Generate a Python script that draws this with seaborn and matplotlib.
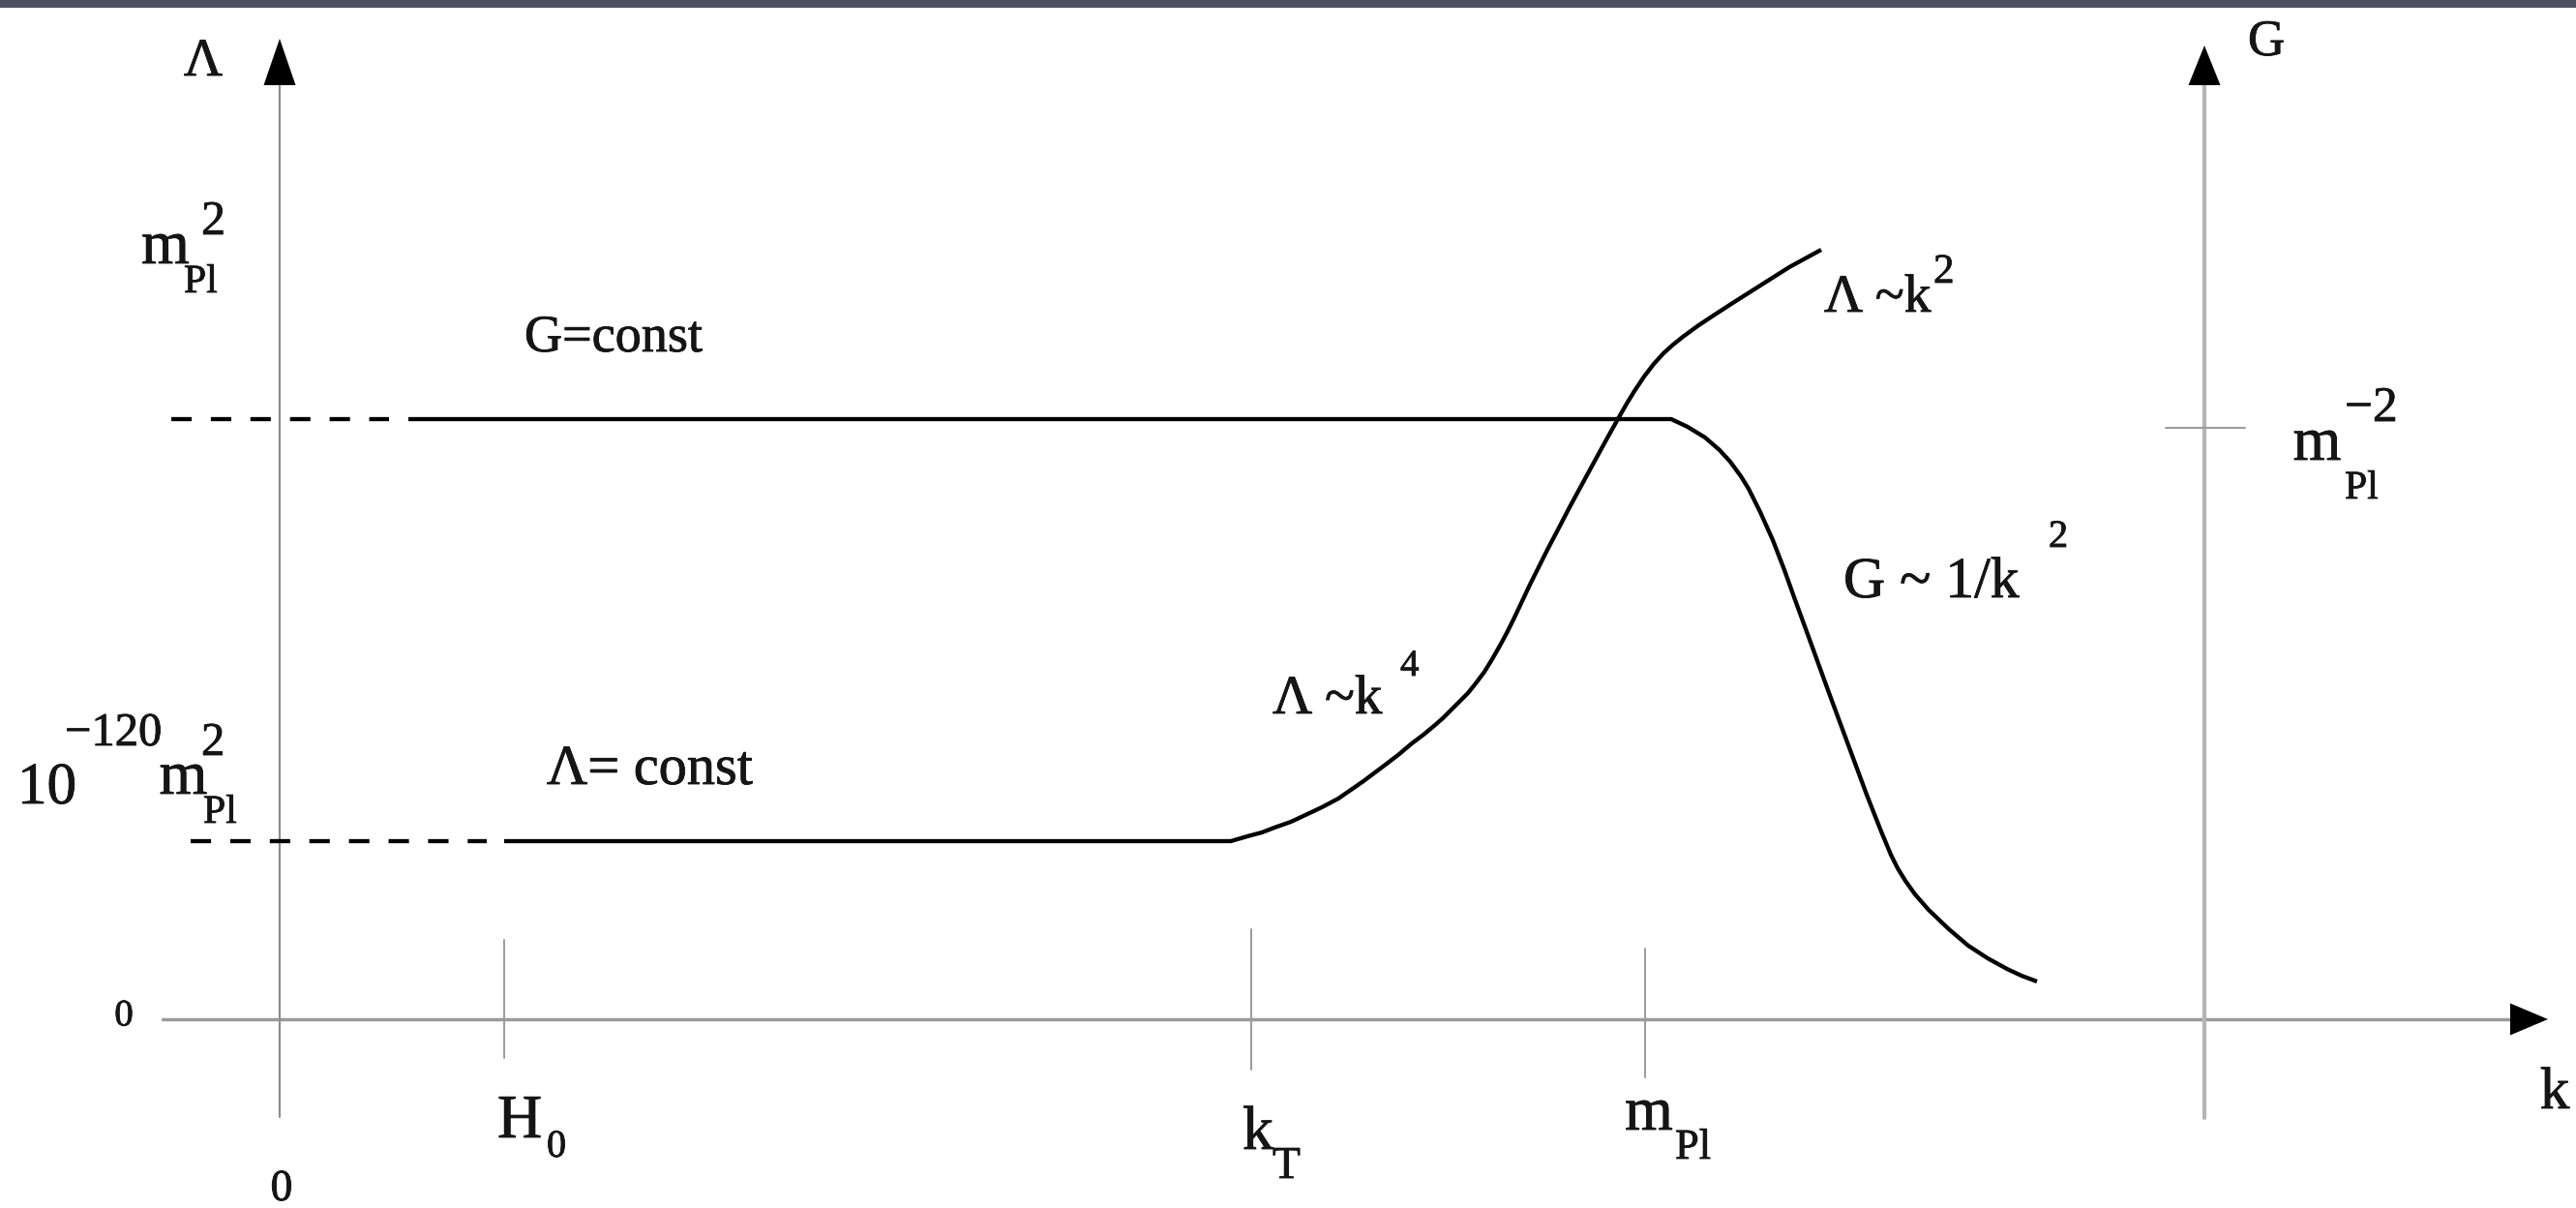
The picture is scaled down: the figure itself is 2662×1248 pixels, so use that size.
import matplotlib
matplotlib.use("Agg")
import matplotlib.pyplot as plt
import matplotlib.patheffects as pe
import seaborn as sns
import pandas as pd
from matplotlib.patches import Rectangle

sns.set_theme(style="white")
plt.rcParams["font.family"] = ["Liberation Serif", "DejaVu Serif"]

# ---- schematic scales (k along x, Lambda / G along y) ----
k_marks = [2.32, 10.04, 14.11]          # H0, k_T, m_Pl
k_right_axis = 19.89                    # position of the G axis
lambda_const = 1.84                     # 10^-120 m_Pl^2
g_const = 6.20                          # G = const level
g_tick = 6.105                          # m_Pl^-2 on the G axis

# cosmological constant: flat, then ~k^4, then ~k^2
lambda_k = [2.32, 9.83, 10.00, 10.15, 10.28, 10.45, 10.60, 10.77, 10.94,
            11.07, 11.20, 11.32, 11.44, 11.57, 11.70, 11.82, 11.94, 12.02,
            12.10, 12.19, 12.28, 12.36, 12.45, 12.53, 12.61, 12.68, 12.75,
            12.84, 12.92, 13.00, 13.10, 13.20, 13.33, 13.46, 13.58, 13.70,
            13.84, 13.92, 14.00, 14.10, 14.20, 14.30, 14.40, 14.50, 14.65,
            14.80, 15.00, 15.30, 15.60, 15.93]
lambda_v = [1.84, 1.84, 1.89, 1.93, 1.98, 2.04, 2.11, 2.19, 2.28,
            2.37, 2.46, 2.55, 2.64, 2.74, 2.85, 2.94, 3.04, 3.11,
            3.19, 3.28, 3.37, 3.47, 3.59, 3.72, 3.86, 3.99, 4.13,
            4.32, 4.49, 4.65, 4.85, 5.04, 5.29, 5.53, 5.75, 5.97,
            6.22, 6.36, 6.49, 6.64, 6.77, 6.88, 6.97, 7.05, 7.16,
            7.26, 7.39, 7.58, 7.77, 7.95]

# Newton coupling: flat, then ~1/k^2
g_k = [1.33, 14.38, 14.55, 14.73, 14.88, 14.99, 15.10, 15.18, 15.30,
       15.43, 15.55, 15.65, 15.80, 16.00, 16.20, 16.40, 16.55, 16.65,
       16.72, 16.80, 16.90, 17.04, 17.25, 17.45, 17.65, 17.85, 18.00,
       18.16]
g_v = [6.20, 6.20, 6.12, 6.01, 5.88, 5.76, 5.61, 5.48, 5.24,
       4.95, 4.64, 4.36, 3.95, 3.40, 2.86, 2.32, 1.94, 1.70,
       1.56, 1.43, 1.29, 1.13, 0.93, 0.76, 0.63, 0.52, 0.45,
       0.39]

# dashed extrapolations towards k -> 0
lambda_dash_k = [-0.92, 2.14]
g_dash_k = [-1.12, 1.13]

lambda_df = pd.DataFrame({"k": lambda_k, "value": lambda_v})
g_df = pd.DataFrame({"k": g_k, "value": g_v})

fig = plt.figure(figsize=(26.62, 12.48), dpi=100)
fig.patch.set_facecolor("white")
ax = fig.add_axes([0, 0, 1, 1])
ax.set_xlim(-2.89, 23.73)
ax.set_ylim(-1.95, 10.53)
ax.axis("off")

# dark strip along the top edge
fig.patches.append(Rectangle((0, 1 - 8 / 1248), 1, 8 / 1248,
                             transform=fig.transFigure, facecolor="#4d5263",
                             edgecolor="none", zorder=10))

# ---- axes with arrow heads ----
ax.plot([-1.21, 23.05], [0, 0], color="#9a9a9a", lw=2.5, zorder=1)
ax.plot([0, 0], [-1.01, 9.65], color="#8c8c8c", lw=1.5, zorder=1)
ax.plot([k_right_axis] * 2, [-1.02, 9.65], color="#b5b5b5", lw=3.0, zorder=1)

ax.fill([-0.165, 0.165, 0.0], [9.65, 9.65, 10.13], color="black", lw=0, zorder=3)
ax.fill([k_right_axis - 0.165, k_right_axis + 0.165, k_right_axis],
        [9.65, 9.65, 10.06], color="black", lw=0, zorder=3)
ax.fill([23.05, 23.05, 23.44], [-0.165, 0.165, 0.0], color="black", lw=0, zorder=3)

# tick strokes on the k axis and on the G axis
tick_spans = [(-0.40, 0.82), (-0.52, 0.93), (-0.60, 0.73)]
for kx, (y0, y1) in zip(k_marks, tick_spans):
    ax.plot([kx, kx], [y0, y1], color="#9a9a9a", lw=1.4, zorder=1)
ax.plot([19.49, 20.31], [g_tick, g_tick], color="#9a9a9a", lw=1.4, zorder=1)

# ---- curves ----
line_kw = dict(color="black", linewidth=3.1, solid_joinstyle="round",
               solid_capstyle="butt", zorder=4)
sns.lineplot(data=lambda_df, x="k", y="value", ax=ax, sort=False,
             estimator=None, legend=False, **line_kw)
sns.lineplot(data=g_df, x="k", y="value", ax=ax, sort=False,
             estimator=None, legend=False, **line_kw)

dash_kw = dict(color="black", linewidth=3.1, linestyle=(0, (4.9, 4.6)),
               dash_capstyle="butt", zorder=4)
ax.plot(lambda_dash_k, [lambda_const] * 2, **dash_kw)
ax.plot(g_dash_k, [g_const] * 2, **dash_kw)

# ---- labels ----
tc = "#151515"
heavy = [pe.withStroke(linewidth=0.6, foreground=tc)]


def label(x, y, s, size, ha="left", va="baseline"):
    ax.text(x, y, s, fontsize=size, ha=ha, va=va, color=tc, zorder=5,
            path_effects=heavy)


# axis names
label(-0.79, 9.75, "Λ", 40, ha="center")
label(20.53, 9.96, "G", 38, ha="center")
label(23.51, -0.92, "k", 44, ha="center")
label(-1.61, 0.03, "0", 28, ha="center", va="center")
label(0.02, -1.87, "0", 33, ha="center")

# left axis levels
label(-1.18, 7.81, "m", 46, ha="center")
label(-0.99, 7.51, "Pl", 30)
label(-0.81, 8.11, "2", 36)

label(-2.71, 2.23, "10", 44)
label(-2.22, 2.83, "−120", 35)
label(-0.995, 2.33, "m", 46, ha="center")
label(-0.79, 2.03, "Pl", 30)
label(-0.81, 2.73, "2", 35)

# right axis level
label(21.055, 5.78, "m", 46, ha="center")
label(21.34, 5.38, "Pl", 30)
label(21.34, 6.18, "−2", 37)

# k axis marks
label(2.25, -1.22, "H", 46)
label(2.76, -1.42, "0", 29)
label(9.95, -1.34, "k", 46)
label(10.26, -1.64, "T", 34)
label(14.15, -1.14, "m", 46, ha="center")
label(14.42, -1.44, "Pl", 32)

# regime annotations
label(2.53, 6.90, "G=const", 39)
label(2.76, 2.43, "Λ= const", 42)
label(10.26, 3.16, "Λ ~k", 41)
label(11.58, 3.55, "4", 28)
label(15.96, 7.31, "Λ ~k", 40)
label(17.09, 7.61, "2", 31)
label(16.16, 4.36, "G ~ 1/k", 43)
label(18.28, 4.88, "2", 29)

fig.savefig("out.png", dpi=100, facecolor="white")
